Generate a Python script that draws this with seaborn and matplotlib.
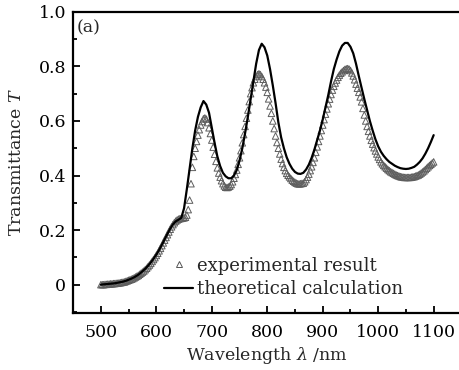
import numpy as np
import pandas as pd
import seaborn as sns
import matplotlib.pyplot as plt
from matplotlib.ticker import MultipleLocator
from matplotlib.lines import Line2D

# theoretical calculation (black line), read every 5 nm
wl_theory = list(range(500, 1101, 5))
t_theory = [
    0.000, 0.001, 0.002, 0.003, 0.004, 0.005, 0.007, 0.009, 0.011, 0.014,
    0.018, 0.022, 0.027, 0.033, 0.040, 0.049, 0.058, 0.069, 0.081, 0.095,
    0.110, 0.127, 0.146, 0.166, 0.186, 0.205, 0.221, 0.232, 0.238, 0.245,
    0.280, 0.350, 0.425, 0.500, 0.565, 0.615, 0.650, 0.673, 0.660, 0.630,
    0.575, 0.520, 0.470, 0.435, 0.410, 0.397, 0.390, 0.390, 0.400, 0.420,
    0.455, 0.500, 0.555, 0.615, 0.680, 0.745, 0.810, 0.860, 0.883, 0.870,
    0.840, 0.790, 0.730, 0.665, 0.595, 0.540, 0.500, 0.467, 0.443, 0.425,
    0.413, 0.407, 0.406, 0.410, 0.422, 0.440, 0.465, 0.495, 0.530, 0.565,
    0.605, 0.650, 0.695, 0.745, 0.790, 0.825, 0.855, 0.876, 0.886, 0.886,
    0.872, 0.848, 0.810, 0.765, 0.722, 0.680, 0.640, 0.600, 0.565, 0.533,
    0.507, 0.487, 0.472, 0.460, 0.450, 0.443, 0.436, 0.431, 0.427, 0.425,
    0.424, 0.425, 0.428, 0.432, 0.440, 0.450, 0.463, 0.480, 0.500, 0.523,
    0.548,
]

# experimental result (open triangles), read every 2.5 nm
wl_exp = [500 + 2.5 * i for i in range(241)]
t_exp = [
    0.000, 0.000, 0.000, 0.001, 0.001, 0.002, 0.002, 0.003, 0.003, 0.004,
    0.004, 0.005, 0.005, 0.006, 0.007, 0.008, 0.009, 0.010, 0.012, 0.014,
    0.016, 0.018, 0.020, 0.022, 0.025, 0.028, 0.031, 0.034, 0.038, 0.042,
    0.046, 0.050, 0.055, 0.060, 0.066, 0.072, 0.078, 0.085, 0.092, 0.099,
    0.107, 0.115, 0.124, 0.133, 0.143, 0.153, 0.163, 0.173, 0.183, 0.193,
    0.203, 0.212, 0.220, 0.227, 0.233, 0.237, 0.240, 0.242, 0.243, 0.244,
    0.245, 0.247, 0.255, 0.275, 0.310, 0.370, 0.430, 0.470, 0.500, 0.525,
    0.548, 0.568, 0.585, 0.598, 0.608, 0.611, 0.607, 0.594, 0.575, 0.554,
    0.530, 0.504, 0.478, 0.452, 0.428, 0.409, 0.394, 0.381, 0.370, 0.362,
    0.357, 0.356, 0.358, 0.361, 0.367, 0.377, 0.390, 0.404, 0.420, 0.441,
    0.465, 0.491, 0.520, 0.550, 0.580, 0.610, 0.640, 0.671, 0.700, 0.722,
    0.740, 0.753, 0.763, 0.770, 0.773, 0.770, 0.763, 0.753, 0.740, 0.724,
    0.705, 0.681, 0.655, 0.628, 0.600, 0.572, 0.545, 0.521, 0.500, 0.479,
    0.460, 0.444, 0.430, 0.418, 0.408, 0.401, 0.395, 0.389, 0.383, 0.379,
    0.375, 0.372, 0.370, 0.369, 0.370, 0.371, 0.372, 0.377, 0.385, 0.394,
    0.405, 0.418, 0.432, 0.448, 0.465, 0.485, 0.505, 0.525, 0.545, 0.565,
    0.585, 0.605, 0.625, 0.644, 0.663, 0.680, 0.697, 0.713, 0.727, 0.739,
    0.750, 0.760, 0.768, 0.775, 0.780, 0.785, 0.789, 0.791, 0.792, 0.790,
    0.785, 0.776, 0.765, 0.751, 0.735, 0.720, 0.705, 0.688, 0.670, 0.646,
    0.622, 0.600, 0.580, 0.562, 0.545, 0.529, 0.515, 0.502, 0.490, 0.479,
    0.468, 0.459, 0.450, 0.443, 0.437, 0.432, 0.427, 0.422, 0.418, 0.414,
    0.411, 0.408, 0.405, 0.402, 0.400, 0.398, 0.396, 0.395, 0.394, 0.393,
    0.393, 0.393, 0.393, 0.393, 0.394, 0.395, 0.396, 0.398, 0.400, 0.402,
    0.405, 0.409, 0.413, 0.417, 0.422, 0.427, 0.432, 0.437, 0.441, 0.446,
    0.450,
]

x_ticks = [500, 600, 700, 800, 900, 1000, 1100]
y_ticks = [0, 0.2, 0.4, 0.6, 0.8, 1.0]
y_tick_labels = ["0", "0.2", "0.4", "0.6", "0.8", "1.0"]

df_th = pd.DataFrame({"wl": wl_theory, "T": t_theory})
df_ex = pd.DataFrame({"wl": wl_exp, "T": t_exp})

sns.set_style("ticks")
plt.rcParams["font.family"] = ["DejaVu Serif"]
plt.rcParams["mathtext.fontset"] = "dejavuserif"

fig = plt.figure(figsize=(4.6, 3.7), dpi=100)
ax = fig.add_axes([0.159, 0.154, 0.844, 0.814])

sns.scatterplot(data=df_ex, x="wl", y="T", ax=ax, marker="^", s=22,
                facecolor="none", edgecolor="#5e5e5e", linewidth=0.7, zorder=2)
sns.lineplot(data=df_th, x="wl", y="T", ax=ax, color="black", linewidth=1.6,
             zorder=3)

ax.set_xlim(450, 1150)
ax.set_ylim(-0.104, 1.0)
ax.set_xticks(x_ticks)
ax.set_yticks(y_ticks)
ax.set_yticklabels(y_tick_labels)
ax.xaxis.set_minor_locator(MultipleLocator(50))
ax.yaxis.set_minor_locator(MultipleLocator(0.1))
ax.tick_params(which="both", direction="in", top=False, right=False,
               labelsize=12.5, width=1.3, colors="black")
ax.tick_params(which="major", length=5)
ax.tick_params(which="minor", length=3)
ax.tick_params(axis="x", pad=8)
ax.tick_params(axis="y", pad=5)
for sp in ax.spines.values():
    sp.set_linewidth(1.6)
    sp.set_color("black")

ax.set_xlabel(r"Wavelength $\lambda$ /nm", fontsize=12.5, labelpad=3)
ax.set_ylabel(r"Transmittance $T$", fontsize=12.5, labelpad=10)
ax.text(0.008, 0.975, "(a)", transform=ax.transAxes, fontsize=12.5,
        ha="left", va="top")

handles = [
    Line2D([], [], marker="^", linestyle="none", markersize=4,
           markerfacecolor="none", markeredgecolor="#555555",
           markeredgewidth=0.7),
    Line2D([], [], color="black", linewidth=1.6),
]
ax.legend(handles, ["experimental result", "theoretical calculation"],
          loc="center left", bbox_to_anchor=(0.235, 0.118), frameon=False,
          fontsize=13, handlelength=1.6, handletextpad=0.2,
          labelspacing=0.3, borderpad=0, borderaxespad=0)

fig.savefig("out.png", dpi=100)
